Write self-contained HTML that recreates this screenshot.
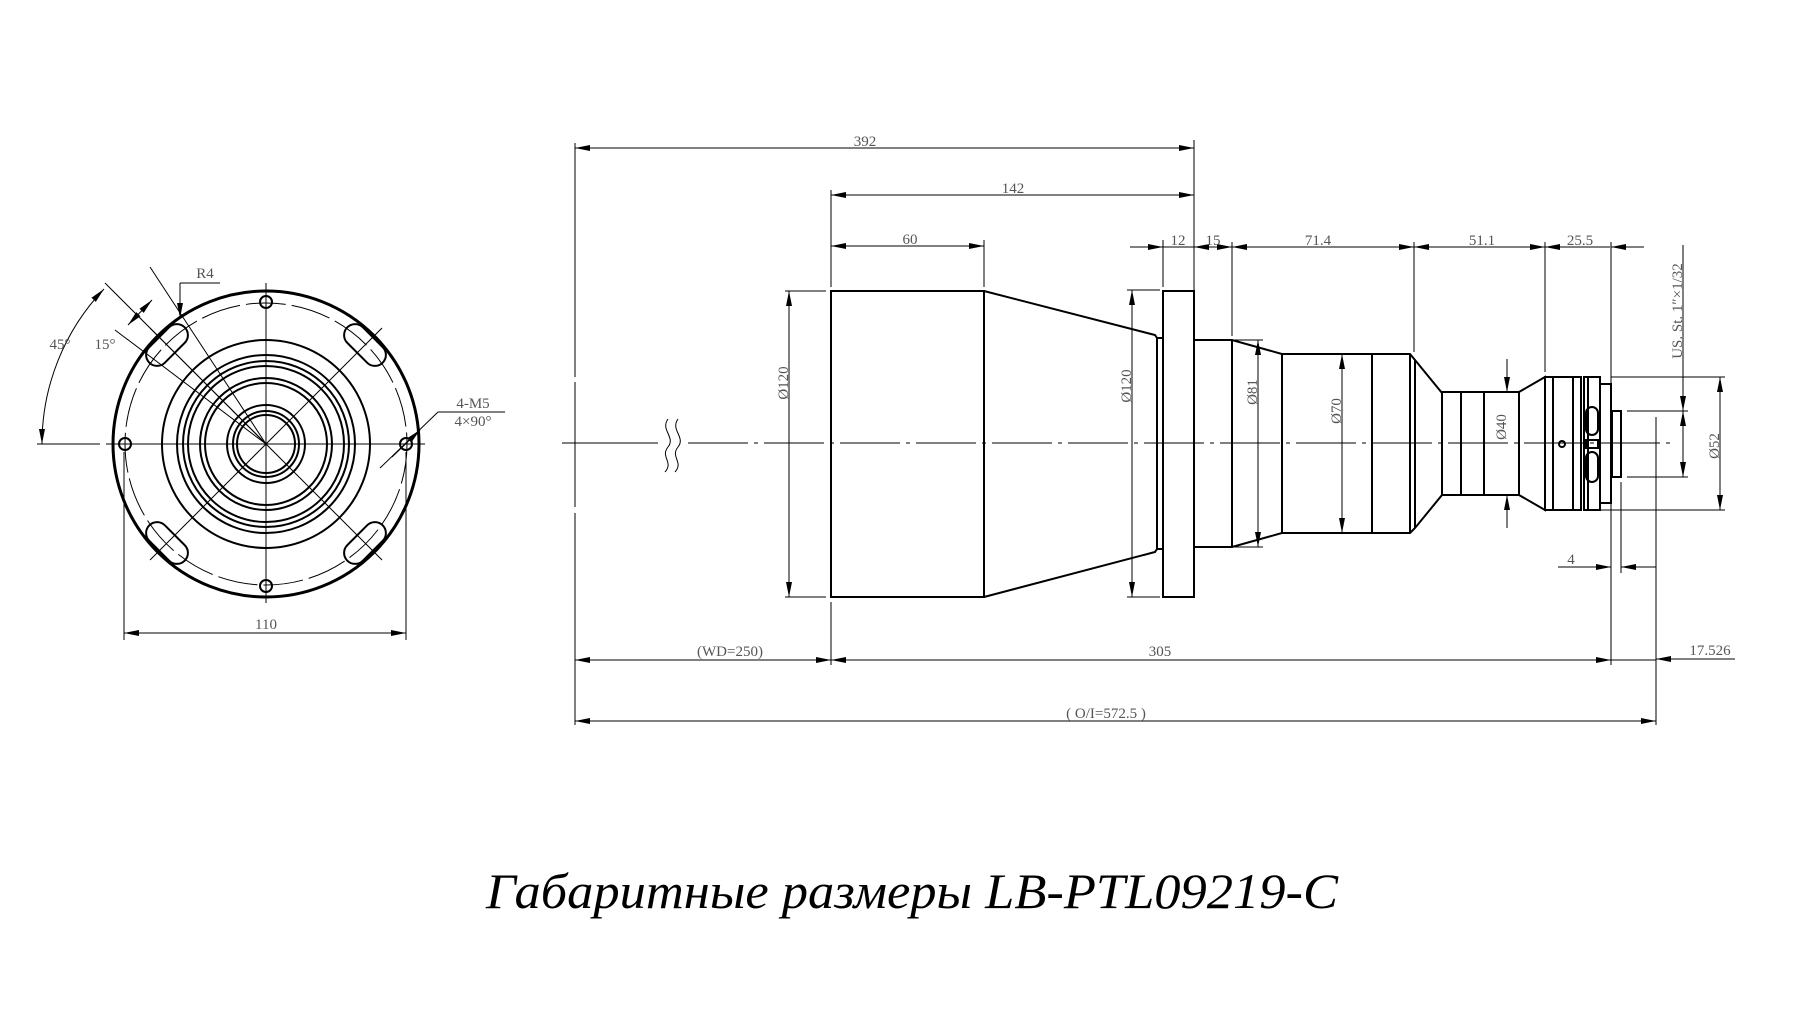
<!DOCTYPE html>
<html><head><meta charset="utf-8"><style>
html,body{margin:0;padding:0;background:#fff;}
svg{display:block;}
text{font-family:"Liberation Serif","Noto Serif CJK SC",serif;fill:#555;font-size:15px;}
</style></head><body>
<svg width="1803" height="1018" viewBox="0 0 1803 1018" xmlns="http://www.w3.org/2000/svg">
<defs>
<marker id="a" markerUnits="userSpaceOnUse" markerWidth="16" markerHeight="8" refX="15" refY="4" orient="auto-start-reverse"><path d="M0,1 L15,4 L0,7 Z" fill="#000"/></marker>
</defs>
<g stroke="#000" fill="none">
<!-- LEFT VIEW -->
<g stroke-width="1">
<line x1="37" y1="444" x2="100" y2="444"/>
<line x1="106" y1="444" x2="425" y2="444"/>
<line x1="266" y1="283" x2="266" y2="603"/>
<line x1="150" y1="328" x2="382" y2="560"/>
<line x1="382" y1="328" x2="150" y2="560"/>
<line x1="266" y1="444" x2="105" y2="283"/>
<line x1="266" y1="444" x2="150" y2="267"/>
<line x1="266" y1="444" x2="115" y2="330"/>
<circle cx="266" cy="444" r="141" stroke-dasharray="40 6"/>
<path d="M42,444 A224,224 0 0 1 104,289" marker-start="url(#a)" marker-end="url(#a)"/>
<line x1="128" y1="325" x2="152" y2="300" marker-start="url(#a)" marker-end="url(#a)"/>
<line x1="180" y1="283" x2="220" y2="283"/>
<line x1="180" y1="283" x2="180" y2="318" marker-end="url(#a)"/>
<line x1="124" y1="452" x2="124" y2="640"/>
<line x1="406" y1="452" x2="406" y2="640"/>
<line x1="124" y1="633" x2="406" y2="633" marker-start="url(#a)" marker-end="url(#a)"/>
<line x1="438" y1="412" x2="505" y2="412"/>
<line x1="438" y1="412" x2="380" y2="468"/>
<line x1="420" y1="430" x2="392" y2="457" marker-start="url(#a)"/>
</g>
<circle cx="266" cy="444" r="153" stroke-width="3"/>
<g stroke-width="2">
<circle cx="266" cy="444" r="104"/>
<circle cx="266" cy="444" r="89"/>
<circle cx="266" cy="444" r="83"/>
<circle cx="266" cy="444" r="78"/>
<circle cx="266" cy="444" r="66"/>
<circle cx="266" cy="444" r="61"/>
<circle cx="266" cy="444" r="39"/>
<circle cx="266" cy="444" r="33"/>
<circle cx="266" cy="444" r="29"/>
<circle cx="266" cy="302" r="6"/><circle cx="266" cy="586" r="6"/>
<circle cx="125" cy="444" r="6"/><circle cx="406" cy="444" r="6"/>
<rect x="-25" y="-11" width="50" height="22" rx="11" transform="translate(167,345) rotate(-45)"/>
<rect x="-25" y="-11" width="50" height="22" rx="11" transform="translate(365,345) rotate(45)"/>
<rect x="-25" y="-11" width="50" height="22" rx="11" transform="translate(167,543) rotate(45)"/>
<rect x="-25" y="-11" width="50" height="22" rx="11" transform="translate(365,543) rotate(-45)"/>
</g>

<!-- RIGHT VIEW dims -->
<g stroke-width="1">
<line x1="562" y1="443" x2="658" y2="443"/>
<line x1="688" y1="443" x2="1673" y2="443" stroke-dasharray="60 6 4 6"/>
<path d="M668,419 C660,430 676,437 668,447 C660,457 674,462 665,472"/>
<path d="M678,419 C670,430 686,437 678,447 C670,457 684,462 675,472"/>
<line x1="575" y1="143" x2="575" y2="377"/><line x1="575" y1="382" x2="575" y2="507"/><line x1="575" y1="513" x2="575" y2="725"/>
<line x1="1194" y1="140" x2="1194" y2="290"/>
<line x1="831" y1="190" x2="831" y2="287"/>
<line x1="831" y1="602" x2="831" y2="665"/>
<line x1="984" y1="240" x2="984" y2="287"/>
<line x1="1163" y1="240" x2="1163" y2="287"/>
<line x1="1232" y1="242" x2="1232" y2="336"/>
<line x1="1414" y1="242" x2="1414" y2="352"/>
<line x1="1545" y1="242" x2="1545" y2="372"/>
<line x1="1611" y1="242" x2="1611" y2="665"/>
<line x1="1621" y1="482" x2="1621" y2="573"/>
<line x1="1656" y1="417" x2="1656" y2="725"/>
<line x1="575" y1="148" x2="1194" y2="148" marker-start="url(#a)" marker-end="url(#a)"/>
<line x1="831" y1="195" x2="1194" y2="195" marker-start="url(#a)" marker-end="url(#a)"/>
<line x1="831" y1="246" x2="984" y2="246" marker-start="url(#a)" marker-end="url(#a)"/>
<line x1="1130" y1="247" x2="1163" y2="247" marker-end="url(#a)"/>
<line x1="1163" y1="247" x2="1194" y2="247"/>
<line x1="1194" y1="247" x2="1232" y2="247" marker-start="url(#a)" marker-end="url(#a)"/>
<line x1="1232" y1="247" x2="1414" y2="247" marker-start="url(#a)" marker-end="url(#a)"/>
<line x1="1414" y1="247" x2="1545" y2="247" marker-start="url(#a)" marker-end="url(#a)"/>
<line x1="1545" y1="247" x2="1610" y2="247" marker-start="url(#a)"/>
<line x1="1644" y1="247" x2="1611" y2="247" marker-end="url(#a)"/>
<!-- dia dims -->
<line x1="785" y1="291" x2="826" y2="291"/><line x1="785" y1="597" x2="826" y2="597"/>
<line x1="789" y1="291" x2="789" y2="597" marker-start="url(#a)" marker-end="url(#a)"/>
<line x1="1127" y1="290" x2="1160" y2="290"/><line x1="1127" y1="597" x2="1160" y2="597"/>
<line x1="1132" y1="290" x2="1132" y2="597" marker-start="url(#a)" marker-end="url(#a)"/>
<line x1="1232" y1="340" x2="1263" y2="340"/><line x1="1232" y1="547" x2="1263" y2="547"/>
<line x1="1258" y1="340" x2="1258" y2="547" marker-start="url(#a)" marker-end="url(#a)"/>
<line x1="1342" y1="354" x2="1342" y2="533" marker-start="url(#a)" marker-end="url(#a)"/>
<line x1="1507" y1="359" x2="1507" y2="392" marker-end="url(#a)"/>
<line x1="1507" y1="528" x2="1507" y2="495" marker-end="url(#a)"/>
<line x1="1611" y1="377" x2="1725" y2="377"/><line x1="1600" y1="510" x2="1725" y2="510"/>
<line x1="1720" y1="377" x2="1720" y2="510" marker-start="url(#a)" marker-end="url(#a)"/>
<line x1="1627" y1="411" x2="1688" y2="411"/><line x1="1627" y1="477" x2="1688" y2="477"/>
<line x1="1683" y1="245" x2="1683" y2="411" marker-end="url(#a)"/>
<line x1="1683" y1="411" x2="1683" y2="477" marker-start="url(#a)" marker-end="url(#a)"/>
<!-- bottom dims -->
<line x1="1558" y1="567" x2="1611" y2="567" marker-end="url(#a)"/>
<line x1="1656" y1="567" x2="1621" y2="567" marker-end="url(#a)"/>
<line x1="575" y1="660" x2="831" y2="660" marker-start="url(#a)" marker-end="url(#a)"/>
<line x1="831" y1="660" x2="1611" y2="660" marker-start="url(#a)" marker-end="url(#a)"/>
<line x1="1611" y1="660" x2="1656" y2="660"/>
<line x1="1735" y1="659" x2="1656" y2="659" marker-end="url(#a)"/>
<line x1="575" y1="721" x2="1656" y2="721" marker-start="url(#a)" marker-end="url(#a)"/>
</g>
<!-- RIGHT VIEW body -->
<g stroke-width="2">
<rect x="831" y="291" width="153" height="306"/>
<path d="M984,291 L1155,335 L1157,338 L1157,549 L1155,552 L984,597"/>
<line x1="1157" y1="338" x2="1163" y2="338"/><line x1="1157" y1="549" x2="1163" y2="549"/>
<rect x="1163" y="291" width="31" height="306"/>
<path d="M1194,340 L1232,340 L1282,354 L1282,533 L1232,547 L1194,547"/>
<line x1="1232" y1="340" x2="1232" y2="547"/>
<path d="M1282,354 L1410,354 L1415,360 L1442,393 L1442,495 L1415,528 L1410,533 L1282,533"/>
<line x1="1372" y1="354" x2="1372" y2="533"/>
<line x1="1410" y1="354" x2="1410" y2="533"/>
<line x1="1415" y1="360" x2="1415" y2="528"/>
<rect x="1442" y="392" width="77" height="103"/>
<line x1="1461" y1="392" x2="1461" y2="495"/><line x1="1484" y1="392" x2="1484" y2="495"/>
<path d="M1519,392 L1545,377 L1545,510 L1519,495"/>
<rect x="1545" y="377" width="28" height="133"/>
<line x1="1553" y1="377" x2="1553" y2="510"/>
<rect x="1573" y="377" width="8" height="133"/>
<rect x="1584" y="377" width="16" height="133"/>
<line x1="1588" y1="377" x2="1588" y2="510"/>
<rect x="1600" y="384" width="11" height="119"/>
<rect x="1612" y="411" width="9" height="66"/>
<rect x="1586" y="407" width="12" height="28" rx="6"/>
<rect x="1586" y="452" width="12" height="30" rx="6"/>
<rect x="1586" y="440" width="12" height="8"/>
<circle cx="1562" cy="444" r="3"/>
</g>
</g>
<g>
<text x="865" y="146" text-anchor="middle">392</text>
<text x="1013" y="193" text-anchor="middle">142</text>
<text x="910" y="244" text-anchor="middle">60</text>
<text x="1178" y="245" text-anchor="middle">12</text>
<text x="1213" y="245" text-anchor="middle">15</text>
<text x="1318" y="245" text-anchor="middle">71.4</text>
<text x="1482" y="245" text-anchor="middle">51.1</text>
<text x="1580" y="245" text-anchor="middle">25.5</text>
<text x="1571" y="564" text-anchor="middle">4</text>
<text x="730" y="656" text-anchor="middle">(WD=250)</text>
<text x="1160" y="656" text-anchor="middle">305</text>
<text x="1710" y="655" text-anchor="middle">17.526</text>
<text x="1106" y="718" text-anchor="middle">( O/I=572.5 )</text>
<text x="266" y="629" text-anchor="middle">110</text>
<text x="60" y="349" text-anchor="middle">45°</text>
<text x="105" y="349" text-anchor="middle">15°</text>
<text x="205" y="278" text-anchor="middle">R4</text>
<text x="473" y="408" text-anchor="middle">4-M5</text>
<text x="473" y="426" text-anchor="middle">4×90°</text>
<text transform="translate(788,383) rotate(-90)" text-anchor="middle">Ø120</text>
<text transform="translate(1131,386) rotate(-90)" text-anchor="middle">Ø120</text>
<text transform="translate(1257,392) rotate(-90)" text-anchor="middle">Ø81</text>
<text transform="translate(1341,411) rotate(-90)" text-anchor="middle">Ø70</text>
<text transform="translate(1506,427) rotate(-90)" text-anchor="middle">Ø40</text>
<text transform="translate(1719,446) rotate(-90)" text-anchor="middle">Ø52</text>
<text transform="translate(1682,311) rotate(-90)" text-anchor="middle">US. St. 1″×1/32</text>
<text x="486" y="908" style="font-size:50px;font-style:italic;fill:#000" textLength="852" lengthAdjust="spacingAndGlyphs">Габаритные размеры LB-PTL09219-C</text>
</g>
</svg>
</body></html>
